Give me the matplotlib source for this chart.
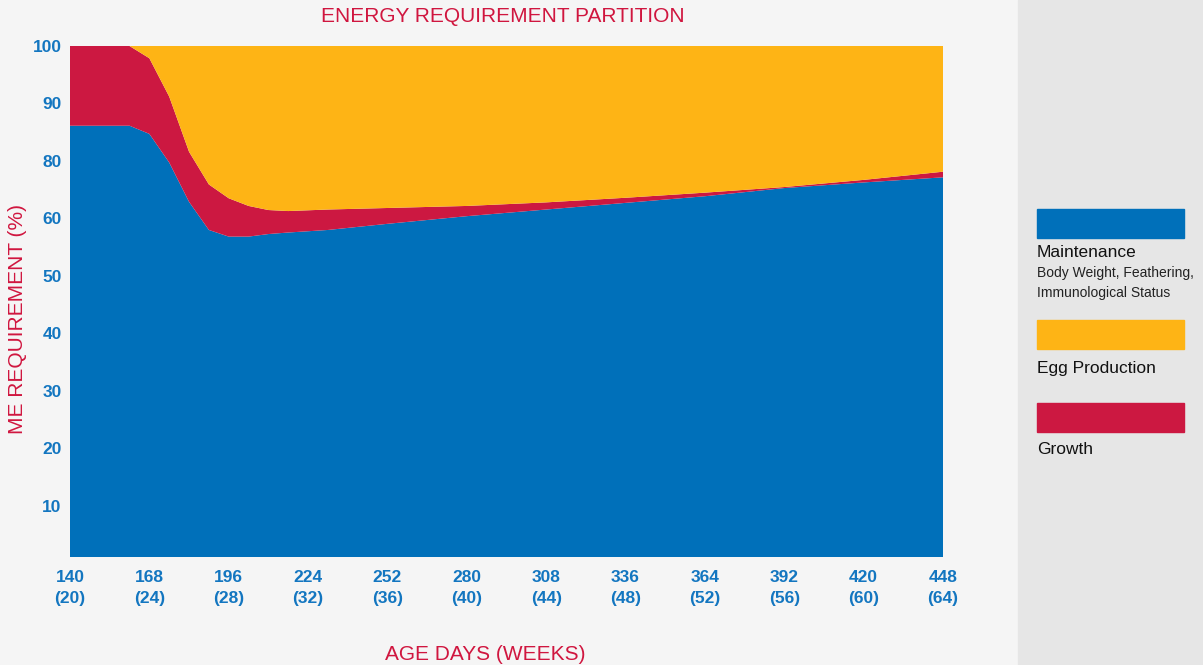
import numpy as np
import matplotlib
matplotlib.use("Agg")
import matplotlib.pyplot as plt
from matplotlib.patches import Rectangle

plt.rcParams['font.family'] = ['Liberation Sans', 'DejaVu Sans']

# age in days (weeks = days / 7)
days = [140, 147, 154, 161, 168, 175, 182, 189, 196, 203, 210, 217,
        231, 252, 280, 308, 336, 364, 392, 420, 448]

# ME requirement share (%)
maintenance = [84.4, 84.4, 84.4, 84.4, 82.8, 77.2, 69.5, 64.0, 62.7, 62.7, 63.2, 63.5,
               64.0, 65.2, 66.7, 68.0, 69.3, 70.6, 72.2, 73.3, 74.3]
growth = [15.6, 15.6, 15.6, 15.6, 14.8, 12.9, 9.8, 8.9, 7.5, 6.0, 4.7, 4.2,
          4.0, 3.1, 2.0, 1.4, 1.0, 0.7, 0.2, 0.5, 1.1]
egg = [100 - m - g for m, g in zip(maintenance, growth)]

x_ticks = list(range(140, 449, 28))
y_labels = ["100", "90", "80", "60", "50", "40", "30", "20", "10"]

BG = "#f5f5f5"
PANEL = "#e6e6e6"
BLUE = "#0070ba"
YELLOW = "#feb415"
RED = "#cc1841"
TXT_BLUE = "#1376c0"
TXT_RED = "#d0163f"

fig = plt.figure(figsize=(12.03, 6.65), dpi=100, facecolor=BG)
ax = fig.add_axes([70 / 1203, 1 - 557 / 665, 873 / 1203, 511 / 665])
ax.set_facecolor(BG)

ax.stackplot(days, maintenance, growth, egg,
             colors=[BLUE, RED, YELLOW], linewidth=0)
ax.set_xlim(140, 448)
ax.set_ylim(0, 100)

for s in ax.spines.values():
    s.set_visible(False)

ax.set_xticks(x_ticks)
ax.set_xticklabels([f"{d}\n({d // 7})" for d in x_ticks])
ax.set_yticks(np.linspace(100, 10, 9))
ax.set_yticklabels(y_labels)
ax.tick_params(length=0, labelsize=12.5, labelcolor=TXT_BLUE)
ax.tick_params(axis="x", pad=9)
ax.tick_params(axis="y", pad=6)
for lbl in ax.get_xticklabels() + ax.get_yticklabels():
    lbl.set_fontweight("bold")
for lbl in ax.get_xticklabels():
    lbl.set_linespacing(1.5)

fig.text(503 / 1203, 1 - 16 / 665, "ENERGY REQUIREMENT PARTITION",
         ha="center", va="center", fontsize=15, color=TXT_RED)
fig.text(485 / 1203, 1 - 654 / 665, "AGE DAYS (WEEKS)",
         ha="center", va="center", fontsize=15, color=TXT_RED)
fig.text(18 / 1203, 1 - 319 / 665, "ME REQUIREMENT (%)", rotation=90,
         ha="center", va="center", fontsize=15, color=TXT_RED)

# legend panel on the right
fig.patches.append(Rectangle((1018 / 1203, 0), 185 / 1203, 1,
                             transform=fig.transFigure, color=PANEL, zorder=0))
lx = 1037 / 1203
lw = 147 / 1203
lh = 29 / 665
for top, col in [(209, BLUE), (320, YELLOW), (403, RED)]:
    fig.patches.append(Rectangle((lx, 1 - (top + 29) / 665), lw, lh,
                                 transform=fig.transFigure, color=col, zorder=1))

fig.text(lx, 1 - 253 / 665, "Maintenance", va="center", fontsize=12.5, color="#111111")
fig.text(lx, 1 - 273 / 665, "Body Weight, Feathering,", va="center", fontsize=10, color="#222222")
fig.text(lx, 1 - 293 / 665, "Immunological Status", va="center", fontsize=10, color="#222222")
fig.text(lx, 1 - 369 / 665, "Egg Production", va="center", fontsize=12.5, color="#111111")
fig.text(lx, 1 - 449 / 665, "Growth", va="center", fontsize=12.5, color="#111111")

fig.savefig("out.png", dpi=100, facecolor=BG)
